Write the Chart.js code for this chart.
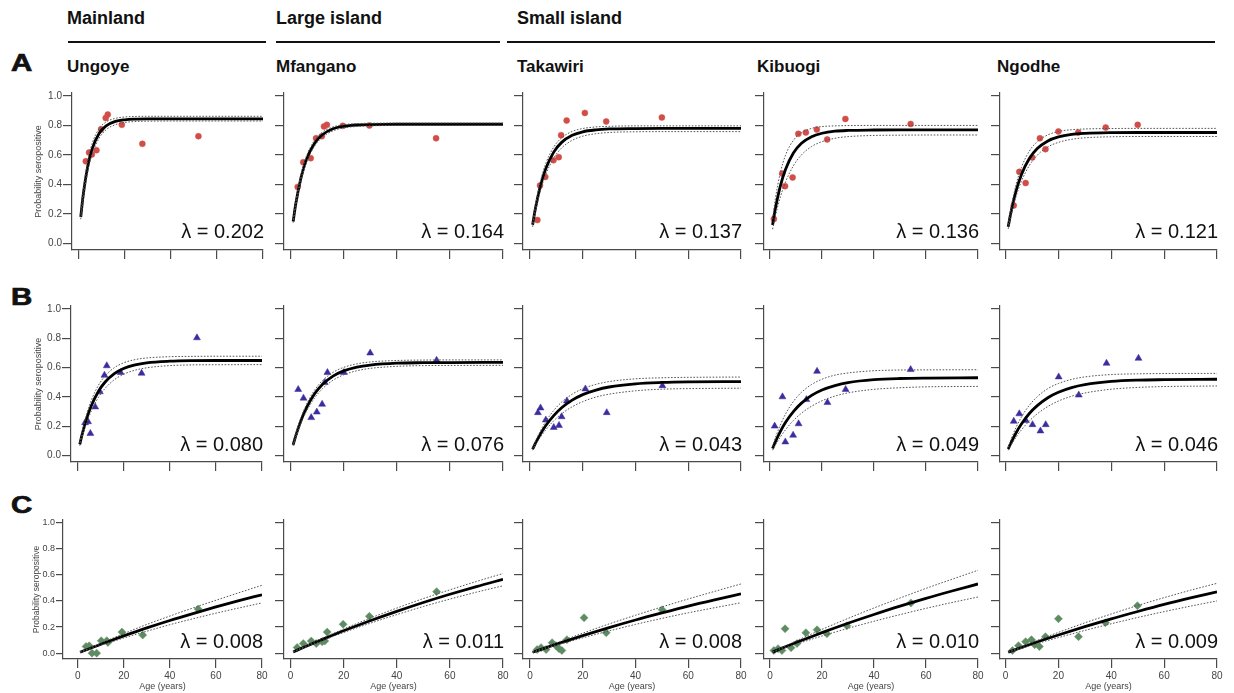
<!DOCTYPE html>
<html><head><meta charset="utf-8">
<script src="https://cdn.jsdelivr.net/npm/chart.js@4.4.1/dist/chart.umd.min.js"></script>
<style>
html,body{margin:0;padding:0;background:#fff;width:1234px;height:693px;overflow:hidden;position:relative;font-family:"Liberation Sans",Arial,sans-serif;}
.t{position:absolute;font-weight:bold;color:#111;white-space:nowrap;line-height:1;}
.g{font-size:18px;top:9px;}
.s{font-size:17px;top:58px;}
.L{font-size:23px;transform:scaleX(1.28);transform-origin:0 0;left:11px;-webkit-text-stroke:0.7px #111;}
.rule{position:absolute;height:2px;background:#111;top:41px;}
canvas{position:absolute;}
</style></head><body>
<div class="t g" style="left:67px">Mainland</div>
<div class="t g" style="left:276px">Large island</div>
<div class="t g" style="left:517px">Small island</div>
<div class="rule" style="left:68px;width:198px"></div>
<div class="rule" style="left:276px;width:224px"></div>
<div class="rule" style="left:507px;width:708px"></div>
<div class="t s" style="left:67px">Ungoye</div>
<div class="t s" style="left:276px">Mfangano</div>
<div class="t s" style="left:517px">Takawiri</div>
<div class="t s" style="left:757px">Kibuogi</div>
<div class="t s" style="left:997px">Ngodhe</div>
<div class="t L" style="top:51.5px">A</div>
<div class="t L" style="top:285.5px">B</div>
<div class="t L" style="top:493.5px">C</div>
<script>
// ---- axis ticks / shared ages ----
const xTickValues = [0, 20, 40, 60, 80];
const yTickValues = [0, 0.2, 0.4, 0.6, 0.8, 1.0];
const curveAgesAB = [1, 2, 4, 6, 9, 12, 16, 20, 25, 30, 40, 50, 60, 80];
const curveAgesC = [1, 5, 10, 15, 20, 30, 40, 50, 60, 70, 80];
const lambdaA = ['0.202', '0.164', '0.137', '0.136', '0.121'];
const lambdaB = ['0.080', '0.076', '0.043', '0.049', '0.046'];
const lambdaC = ['0.008', '0.011', '0.008', '0.010', '0.009'];

// ---- Row A ----
const ungoyeA_age = [3.2, 4.6, 5.8, 7.8, 9.8, 11.8, 12.7, 18.8, 27.7, 52];
const ungoyeA_prob = [0.557, 0.616, 0.603, 0.632, 0.774, 0.851, 0.874, 0.804, 0.675, 0.727];
const ungoyeA_fit = [0.180, 0.321, 0.520, 0.644, 0.747, 0.797, 0.827, 0.838, 0.843, 0.845, 0.845, 0.845, 0.845, 0.845];
const ungoyeA_upper = [0.197, 0.349, 0.557, 0.681, 0.779, 0.824, 0.848, 0.857, 0.861, 0.862, 0.862, 0.862, 0.862, 0.862];
const ungoyeA_lower = [0.164, 0.295, 0.486, 0.608, 0.715, 0.771, 0.805, 0.820, 0.827, 0.829, 0.830, 0.830, 0.830, 0.830];

const mfanganoA_age = [2.7, 4.8, 7.6, 9.6, 11.8, 12.6, 13.7, 19.7, 29.7, 54.8];
const mfanganoA_prob = [0.383, 0.551, 0.578, 0.713, 0.727, 0.793, 0.804, 0.797, 0.799, 0.713];
const mfanganoA_fit = [0.148, 0.270, 0.449, 0.569, 0.678, 0.737, 0.777, 0.794, 0.803, 0.806, 0.808, 0.808, 0.808, 0.808];
const mfanganoA_upper = [0.158, 0.285, 0.471, 0.592, 0.698, 0.754, 0.790, 0.805, 0.812, 0.815, 0.816, 0.816, 0.816, 0.816];
const mfanganoA_lower = [0.140, 0.255, 0.428, 0.547, 0.658, 0.720, 0.763, 0.783, 0.793, 0.797, 0.800, 0.800, 0.800, 0.800];

const takawiriA_age = [2.8, 3.8, 5.8, 8.9, 10.9, 11.8, 13.9, 20.8, 28.9, 50];
const takawiriA_prob = [0.158, 0.393, 0.451, 0.564, 0.585, 0.734, 0.833, 0.885, 0.827, 0.854];
const takawiriA_fit = [0.126, 0.231, 0.394, 0.508, 0.619, 0.685, 0.733, 0.757, 0.770, 0.776, 0.779, 0.780, 0.780, 0.780];
const takawiriA_upper = [0.138, 0.252, 0.424, 0.542, 0.653, 0.716, 0.759, 0.779, 0.790, 0.794, 0.797, 0.797, 0.797, 0.797];
const takawiriA_lower = [0.112, 0.208, 0.359, 0.468, 0.578, 0.647, 0.699, 0.727, 0.744, 0.752, 0.757, 0.758, 0.758, 0.758];

const kibuogiA_age = [1.5, 4.7, 5.8, 8.7, 10.9, 13.8, 18, 22, 29, 54.1];
const kibuogiA_prob = [0.165, 0.474, 0.388, 0.447, 0.743, 0.752, 0.772, 0.705, 0.844, 0.810];
const kibuogiA_fit = [0.125, 0.229, 0.390, 0.503, 0.613, 0.678, 0.724, 0.747, 0.761, 0.766, 0.769, 0.770, 0.770, 0.770];
const kibuogiA_upper = [0.164, 0.295, 0.481, 0.599, 0.699, 0.749, 0.780, 0.792, 0.797, 0.799, 0.800, 0.800, 0.800, 0.800];
const kibuogiA_lower = [0.096, 0.179, 0.315, 0.418, 0.526, 0.598, 0.657, 0.690, 0.713, 0.724, 0.732, 0.734, 0.735, 0.735];

const ngodheA_age = [3.1, 5.2, 7.6, 10.1, 13, 15.1, 20, 27.5, 37.9, 50];
const ngodheA_prob = [0.257, 0.485, 0.409, 0.583, 0.713, 0.639, 0.759, 0.752, 0.786, 0.804];
const ngodheA_fit = [0.112, 0.207, 0.357, 0.466, 0.575, 0.643, 0.695, 0.722, 0.739, 0.746, 0.751, 0.752, 0.752, 0.752];
const ngodheA_upper = [0.128, 0.236, 0.400, 0.515, 0.626, 0.690, 0.736, 0.759, 0.771, 0.776, 0.779, 0.780, 0.780, 0.780];
const ngodheA_lower = [0.098, 0.182, 0.319, 0.421, 0.528, 0.598, 0.654, 0.685, 0.706, 0.716, 0.723, 0.725, 0.725, 0.725];

// ---- Row B ----
const ungoyeB_age = [3.3, 4.6, 5.6, 7.7, 9.7, 11.7, 12.7, 18.7, 27.8, 51.8];
const ungoyeB_prob = [0.223, 0.230, 0.150, 0.331, 0.434, 0.547, 0.612, 0.566, 0.561, 0.803];
const ungoyeB_fit = [0.075, 0.142, 0.253, 0.339, 0.435, 0.501, 0.558, 0.593, 0.618, 0.632, 0.643, 0.647, 0.648, 0.648];
const ungoyeB_upper = [0.086, 0.160, 0.283, 0.376, 0.476, 0.543, 0.599, 0.632, 0.654, 0.665, 0.674, 0.676, 0.677, 0.677];
const ungoyeB_lower = [0.066, 0.124, 0.224, 0.303, 0.394, 0.458, 0.517, 0.554, 0.582, 0.598, 0.613, 0.618, 0.619, 0.620];

const mfanganoB_age = [2.9, 4.9, 7.8, 9.9, 11.9, 12.9, 13.9, 20.1, 30, 55];
const mfanganoB_prob = [0.450, 0.391, 0.258, 0.296, 0.349, 0.498, 0.566, 0.566, 0.699, 0.649];
const mfanganoB_fit = [0.072, 0.135, 0.242, 0.325, 0.419, 0.484, 0.541, 0.577, 0.603, 0.617, 0.630, 0.633, 0.634, 0.635];
const mfanganoB_upper = [0.078, 0.146, 0.260, 0.348, 0.444, 0.510, 0.567, 0.601, 0.625, 0.638, 0.648, 0.651, 0.652, 0.652];
const mfanganoB_lower = [0.065, 0.123, 0.222, 0.301, 0.391, 0.455, 0.513, 0.550, 0.578, 0.594, 0.608, 0.613, 0.614, 0.615];

const takawiriB_age = [3.0, 4.0, 6.0, 9.0, 11.0, 12.0, 14.0, 21.0, 29.1, 50.2];
const takawiriB_prob = [0.292, 0.324, 0.242, 0.191, 0.205, 0.264, 0.372, 0.454, 0.292, 0.476];
const takawiriB_fit = [0.042, 0.080, 0.147, 0.204, 0.272, 0.325, 0.377, 0.415, 0.446, 0.467, 0.489, 0.498, 0.502, 0.504];
const takawiriB_upper = [0.048, 0.093, 0.169, 0.232, 0.307, 0.364, 0.418, 0.455, 0.485, 0.504, 0.523, 0.530, 0.533, 0.535];
const takawiriB_lower = [0.035, 0.068, 0.126, 0.175, 0.236, 0.284, 0.332, 0.367, 0.398, 0.418, 0.441, 0.452, 0.456, 0.459];

const kibuogiB_age = [1.8, 4.8, 5.9, 8.9, 11.0, 14.0, 18.1, 22.1, 29.1, 54.1];
const kibuogiB_prob = [0.200, 0.400, 0.092, 0.138, 0.216, 0.381, 0.574, 0.361, 0.450, 0.586];
const kibuogiB_fit = [0.047, 0.090, 0.164, 0.226, 0.299, 0.355, 0.410, 0.447, 0.477, 0.497, 0.517, 0.525, 0.528, 0.530];
const kibuogiB_upper = [0.061, 0.116, 0.208, 0.283, 0.368, 0.429, 0.484, 0.520, 0.548, 0.563, 0.578, 0.583, 0.584, 0.585];
const kibuogiB_lower = [0.035, 0.068, 0.126, 0.176, 0.238, 0.287, 0.336, 0.373, 0.405, 0.427, 0.451, 0.462, 0.468, 0.471];

const ngodheB_age = [3.1, 5.2, 7.7, 10.2, 13.2, 15.2, 20.1, 27.7, 38.2, 50.3];
const ngodheB_prob = [0.233, 0.284, 0.238, 0.210, 0.167, 0.210, 0.536, 0.412, 0.629, 0.663];
const ngodheB_fit = [0.044, 0.084, 0.155, 0.214, 0.286, 0.340, 0.394, 0.431, 0.463, 0.483, 0.505, 0.514, 0.517, 0.520];
const ngodheB_upper = [0.056, 0.106, 0.192, 0.262, 0.342, 0.401, 0.456, 0.491, 0.519, 0.536, 0.552, 0.557, 0.559, 0.560];
const ngodheB_lower = [0.035, 0.067, 0.125, 0.174, 0.235, 0.284, 0.334, 0.371, 0.404, 0.426, 0.452, 0.464, 0.470, 0.474];

// ---- Row C ----
const ungoyeC_age = [3.6, 5.0, 6.2, 8.2, 10.2, 12.6, 13.1, 19.2, 28.2, 52.3];
const ungoyeC_prob = [0.051, 0.056, 0.0, 0.0, 0.095, 0.095, 0.082, 0.161, 0.138, 0.338];
const ungoyeC_fit = [0.007, 0.034, 0.068, 0.100, 0.132, 0.193, 0.250, 0.303, 0.354, 0.402, 0.447];
const ungoyeC_upper = [0.008, 0.038, 0.076, 0.113, 0.150, 0.220, 0.284, 0.346, 0.405, 0.463, 0.520];
const ungoyeC_lower = [0.006, 0.030, 0.060, 0.088, 0.116, 0.168, 0.218, 0.263, 0.306, 0.346, 0.385];

const mfanganoC_age = [2.5, 4.8, 7.8, 9.7, 11.9, 12.9, 13.8, 19.8, 29.7, 55];
const mfanganoC_prob = [0.043, 0.073, 0.093, 0.073, 0.088, 0.093, 0.161, 0.221, 0.282, 0.471];
const mfanganoC_fit = [0.009, 0.045, 0.088, 0.130, 0.171, 0.248, 0.320, 0.388, 0.451, 0.510, 0.565];
const mfanganoC_upper = [0.010, 0.049, 0.096, 0.141, 0.185, 0.268, 0.345, 0.418, 0.485, 0.549, 0.610];
const mfanganoC_lower = [0.008, 0.041, 0.081, 0.120, 0.158, 0.229, 0.295, 0.357, 0.414, 0.467, 0.516];

const takawiriC_age = [2.7, 4.2, 6.1, 8.4, 9.9, 11.0, 12.1, 14.0, 20.5, 28.9, 50.1];
const takawiriC_prob = [0.027, 0.042, 0.027, 0.080, 0.057, 0.034, 0.020, 0.103, 0.271, 0.156, 0.332];
const takawiriC_fit = [0.007, 0.035, 0.069, 0.102, 0.134, 0.196, 0.254, 0.308, 0.360, 0.408, 0.454];
const takawiriC_upper = [0.008, 0.039, 0.078, 0.116, 0.153, 0.224, 0.290, 0.354, 0.415, 0.473, 0.530];
const takawiriC_lower = [0.006, 0.031, 0.061, 0.089, 0.117, 0.170, 0.220, 0.266, 0.309, 0.348, 0.386];

const kibuogiC_age = [1.5, 3.1, 4.6, 5.8, 8.1, 10.4, 13.8, 18.1, 21.9, 29.6, 54.2];
const kibuogiC_prob = [0.020, 0.034, 0.020, 0.187, 0.042, 0.073, 0.156, 0.179, 0.149, 0.210, 0.385];
const kibuogiC_fit = [0.008, 0.041, 0.081, 0.119, 0.157, 0.229, 0.296, 0.360, 0.420, 0.476, 0.530];
const kibuogiC_upper = [0.009, 0.047, 0.093, 0.138, 0.182, 0.266, 0.346, 0.422, 0.496, 0.566, 0.635];
const kibuogiC_lower = [0.007, 0.035, 0.068, 0.100, 0.131, 0.190, 0.244, 0.295, 0.343, 0.388, 0.430];

const ngodheC_age = [2.6, 4.9, 7.6, 9.8, 11.0, 12.8, 15.1, 20.0, 27.6, 37.8, 49.9];
const ngodheC_prob = [0.020, 0.057, 0.088, 0.103, 0.065, 0.050, 0.126, 0.263, 0.126, 0.233, 0.363];
const ngodheC_fit = [0.007, 0.036, 0.072, 0.106, 0.139, 0.203, 0.263, 0.319, 0.373, 0.423, 0.470];
const ngodheC_upper = [0.008, 0.041, 0.082, 0.121, 0.159, 0.232, 0.300, 0.365, 0.425, 0.482, 0.535];
const ngodheC_lower = [0.006, 0.031, 0.062, 0.091, 0.119, 0.174, 0.225, 0.273, 0.318, 0.360, 0.400];

// ---- assemble ----
const rows = [
  {lam: lambdaA, ages: curveAgesAB, style: 'circle', color: '#d24d47', r: 3,
   p: [[ungoyeA_age, ungoyeA_prob, ungoyeA_fit, ungoyeA_upper, ungoyeA_lower],
       [mfanganoA_age, mfanganoA_prob, mfanganoA_fit, mfanganoA_upper, mfanganoA_lower],
       [takawiriA_age, takawiriA_prob, takawiriA_fit, takawiriA_upper, takawiriA_lower],
       [kibuogiA_age, kibuogiA_prob, kibuogiA_fit, kibuogiA_upper, kibuogiA_lower],
       [ngodheA_age, ngodheA_prob, ngodheA_fit, ngodheA_upper, ngodheA_lower]]},
  {lam: lambdaB, ages: curveAgesAB, style: 'triangle', color: '#3a2d9e', r: 4,
   p: [[ungoyeB_age, ungoyeB_prob, ungoyeB_fit, ungoyeB_upper, ungoyeB_lower],
       [mfanganoB_age, mfanganoB_prob, mfanganoB_fit, mfanganoB_upper, mfanganoB_lower],
       [takawiriB_age, takawiriB_prob, takawiriB_fit, takawiriB_upper, takawiriB_lower],
       [kibuogiB_age, kibuogiB_prob, kibuogiB_fit, kibuogiB_upper, kibuogiB_lower],
       [ngodheB_age, ngodheB_prob, ngodheB_fit, ngodheB_upper, ngodheB_lower]]},
  {lam: lambdaC, ages: curveAgesC, style: 'rectRot', color: '#5e8c62', r: 4,
   p: [[ungoyeC_age, ungoyeC_prob, ungoyeC_fit, ungoyeC_upper, ungoyeC_lower],
       [mfanganoC_age, mfanganoC_prob, mfanganoC_fit, mfanganoC_upper, mfanganoC_lower],
       [takawiriC_age, takawiriC_prob, takawiriC_fit, takawiriC_upper, takawiriC_lower],
       [kibuogiC_age, kibuogiC_prob, kibuogiC_fit, kibuogiC_upper, kibuogiC_lower],
       [ngodheC_age, ngodheC_prob, ngodheC_fit, ngodheC_upper, ngodheC_lower]]}
];

// layout geometry (chart-area edges in page pixels)
const rowGeo = [{T: 93, B: 250, lamY: 0.036}, {T: 306, B: 462, lamY: 0.033}, {T: 520, B: 659, lamY: 0.038}];
const colGeo = [
  [{L: 72, R: 263, xmin: -2.8, yW: 40, tl: 9, fs: 10, tfs: 9},
   {L: 71, R: 262, xmin: -2.8, yW: 39, tl: 9, fs: 10, tfs: 9},
   {L: 63, R: 262, xmin: -6.4, yW: 32, tl: 7, fs: 9, tfs: 8.5}],
  {L: 284, R: 503, xmin: -2.45, yW: 12, tl: 9},
  {L: 523, R: 741, xmin: -2.65, yW: 12, tl: 9},
  {L: 764, R: 978, xmin: -2.3, yW: 12, tl: 9},
  {L: 1000, R: 1217, xmin: -2.1, yW: 12, tl: 9}
];

const FONT = '"Liberation Sans", Arial, sans-serif';
Chart.defaults.font.family = FONT;
const AX = '#4a4a4a';

const lambdaPlugin = {
  id: 'lam',
  afterDraw(chart, args, opts) {
    const {ctx, scales: {x, y}} = chart;
    ctx.save();
    ctx.font = '20px ' + FONT;
    ctx.fillStyle = '#111';
    ctx.textAlign = 'right';
    ctx.textBaseline = 'alphabetic';
    ctx.fillText('\u03BB = ' + opts.text, x.getPixelForValue(80) + 1, y.getPixelForValue(opts.yv));
    ctx.restore();
  }
};

function pts(xs, ys) { return xs.map((v, i) => ({x: v, y: ys[i]})); }

rows.forEach((row, ri) => {
  const rg = rowGeo[ri];
  row.p.forEach((pd, ci) => {
    const cg = ci === 0 ? colGeo[0][ri] : colGeo[ci];
    const padT = 10, padR = 12;
    const xH = ri === 2 ? 34 : 12;
    const left = cg.L - cg.yW, top = rg.T - padT;
    const w = cg.yW + (cg.R - cg.L) + padR;
    const h = padT + (rg.B - rg.T) + xH;
    const cv = document.createElement('canvas');
    cv.width = w; cv.height = h;
    cv.style.left = left + 'px'; cv.style.top = top + 'px';
    cv.style.width = w + 'px'; cv.style.height = h + 'px';
    document.body.appendChild(cv);
    const [age, prob, fit, upper, lower] = pd;
    const lineDs = (vals, width, dash, col) => ({
      data: pts(row.ages, vals), showLine: true, pointRadius: 0, borderColor: col,
      borderWidth: width, borderDash: dash, cubicInterpolationMode: 'monotone', fill: false
    });
    new Chart(cv, {
      type: 'scatter',
      data: {datasets: [
        lineDs(upper, 1, [1.6, 1.6], '#555'),
        lineDs(lower, 1, [1.6, 1.6], '#555'),
        lineDs(fit, 2.8, [], '#000'),
        {data: pts(age, prob), showLine: false, pointStyle: row.style, pointRadius: row.r,
         pointBackgroundColor: row.color, pointBorderColor: row.color, pointBorderWidth: 0.5}
      ]},
      options: {
        responsive: false, animation: false, devicePixelRatio: 1, events: [],
        layout: {padding: {top: padT, right: padR, left: 0, bottom: 0}},
        plugins: {legend: {display: false}, tooltip: {enabled: false},
                  lam: {text: row.lam[ci], yv: rg.lamY}},
        scales: {
          x: {
            type: 'linear', min: cg.xmin, max: 80,
            afterBuildTicks: s => { s.ticks = xTickValues.map(v => ({value: v})); },
            afterFit: s => { s.height = xH; },
            grid: {drawOnChartArea: false, drawTicks: true, tickLength: 9, color: AX, lineWidth: 1.2},
            border: {display: true, color: AX, width: 1.2},
            ticks: {display: ri === 2, color: '#444', font: {size: 10}, padding: 2, maxRotation: 0,
                    callback: v => String(v)},
            title: {display: ri === 2, text: 'Age (years)', color: '#444', font: {size: 9},
                    padding: {top: 0, bottom: 1}}
          },
          y: {
            type: 'linear', min: -0.045, max: 1.02,
            afterBuildTicks: s => { s.ticks = yTickValues.map(v => ({value: v})); },
            afterFit: s => { s.width = cg.yW; },
            grid: {drawOnChartArea: false, drawTicks: true, tickLength: cg.tl, color: AX, lineWidth: 1.2},
            border: {display: true, color: AX, width: 1.2},
            ticks: {display: ci === 0, color: '#444', font: {size: cg.fs || 10}, padding: 1,
                    callback: v => v.toFixed(1)},
            title: {display: ci === 0, text: 'Probability seropositive', color: '#444',
                    font: {size: cg.tfs || 9}, padding: {top: 1, bottom: 0}}
          }
        }
      },
      plugins: [lambdaPlugin]
    });
  });
});
</script>
</body></html>
